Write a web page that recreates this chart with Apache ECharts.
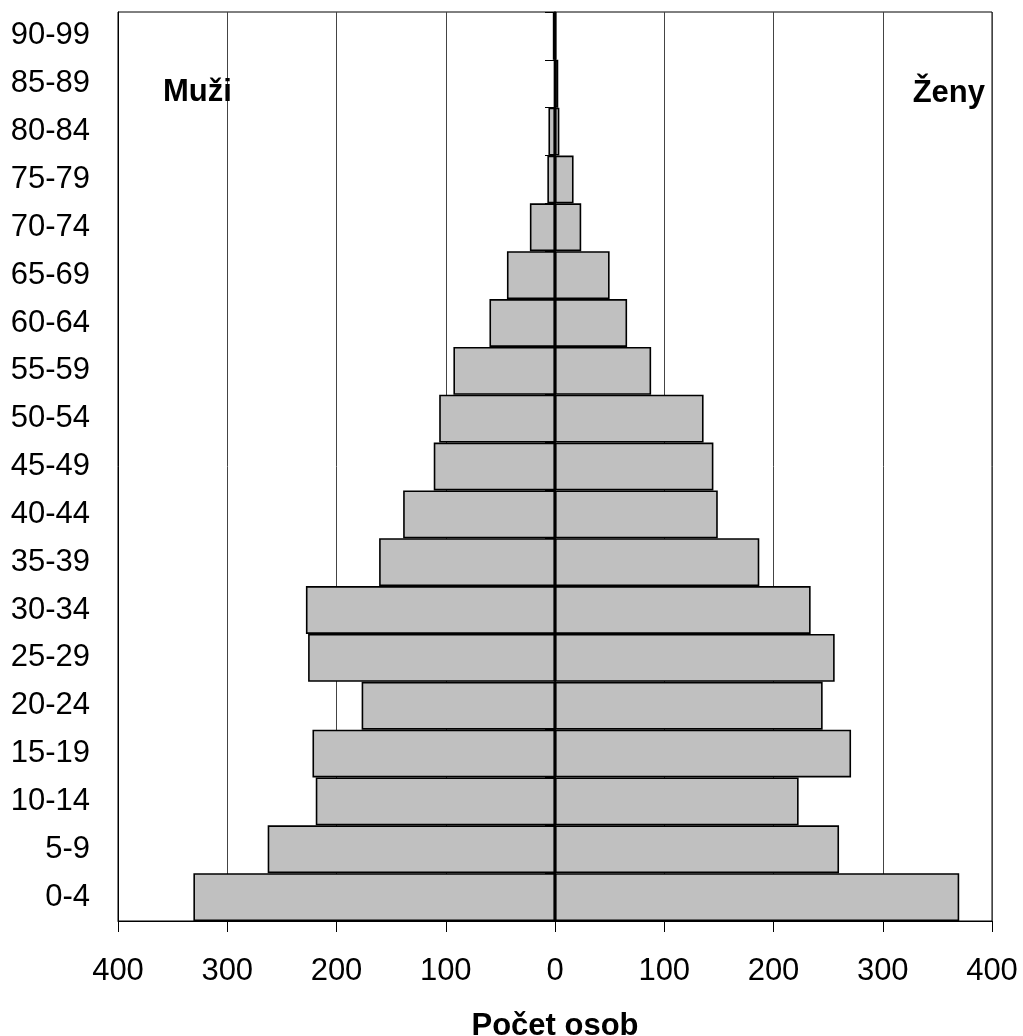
<!DOCTYPE html>
<html>
<head>
<meta charset="utf-8">
<script src="https://cdn.jsdelivr.net/npm/echarts@6/dist/echarts.min.js"></script>
<style>
html,body{margin:0;padding:0;background:#fff;}
#chart{width:1023px;height:1036px;}
</style>
</head>
<body>
<div id="chart"></div>
<script>
var categories = ['0-4','5-9','10-14','15-19','20-24','25-29','30-34','35-39','40-44','45-49','50-54','55-59','60-64','65-69','70-74','75-79','80-84','85-89','90-99'];
var men = [331, 263, 219, 222, 177, 226, 228, 161, 139, 111, 106, 93, 60, 44, 23, 7, 6, 1, 2];
var women = [370, 260, 223, 271, 245, 256, 234, 187, 149, 145, 136, 88, 66, 50, 24, 17, 4, 3, 1.5];
var xTicks = [-400, -300, -200, -100, 0, 100, 200, 300, 400];
var labelMen = 'Muži';
var labelWomen = 'Ženy';
var axisTitle = 'Počet osob';

var FONT = '"Liberation Sans", Arial, sans-serif';
var chart = echarts.init(document.getElementById('chart'), null, {renderer: 'canvas'});

var option = {
  backgroundColor: '#ffffff',
  animation: false,
  grid: {
    left: 118, right: 31, top: 12, bottom: 115,
    outerBoundsMode: 'none',
    containLabel: false,
    show: true, borderColor: '#000', borderWidth: 1, backgroundColor: 'transparent'
  },
  xAxis: {
    type: 'value',
    min: xTicks[0], max: xTicks[xTicks.length - 1], interval: 100,
    axisLine: {show: true, onZero: false, lineStyle: {color: '#000', width: 1}},
    axisTick: {show: true, length: 11, lineStyle: {color: '#000', width: 1}},
    splitLine: {show: true, lineStyle: {color: '#444', width: 1}},
    axisLabel: {
      color: '#000', fontSize: 31, fontFamily: FONT, margin: 35,
      formatter: function (v) { return Math.abs(v); }
    },
    name: axisTitle,
    nameLocation: 'middle',
    nameGap: 90,
    nameTextStyle: {color: '#000', fontSize: 31, fontWeight: 'bold', fontFamily: FONT}
  },
  yAxis: [
    {
      type: 'category',
      data: categories,
      position: 'left',
      axisLine: {show: true, onZero: false, lineStyle: {color: '#000', width: 1}},
      axisTick: {show: false},
      splitLine: {show: false},
      axisLabel: {color: '#000', fontSize: 31, fontFamily: FONT, margin: 28}
    },
    {
      type: 'category',
      data: categories,
      position: 'left',
      z: 10,
      axisLine: {show: true, onZero: true, lineStyle: {color: '#000', width: 1.5}},
      axisTick: {show: true, length: 10, inside: false, lineStyle: {color: '#000', width: 1}},
      splitLine: {show: false},
      axisLabel: {show: false}
    }
  ],
  series: [
    {
      name: labelMen,
      type: 'bar',
      stack: 'pyr',
      yAxisIndex: 0,
      barWidth: '100%',
      data: men.map(function (v) { return -v; }),
      itemStyle: {color: '#c0c0c0', borderColor: '#000', borderWidth: 1.6}
    },
    {
      name: labelWomen,
      type: 'bar',
      stack: 'pyr',
      yAxisIndex: 0,
      barWidth: '100%',
      data: women,
      itemStyle: {color: '#c0c0c0', borderColor: '#000', borderWidth: 1.6}
    }
  ],
  graphic: [
    {
      type: 'text', left: 163, top: 77, z: 20,
      style: {text: labelMen, fill: '#000', font: 'bold 31px ' + FONT}
    },
    {
      type: 'text', right: 38, top: 78, z: 20,
      style: {text: labelWomen, fill: '#000', font: 'bold 31px ' + FONT}
    }
  ]
};
chart.setOption(option);
</script>
</body>
</html>
